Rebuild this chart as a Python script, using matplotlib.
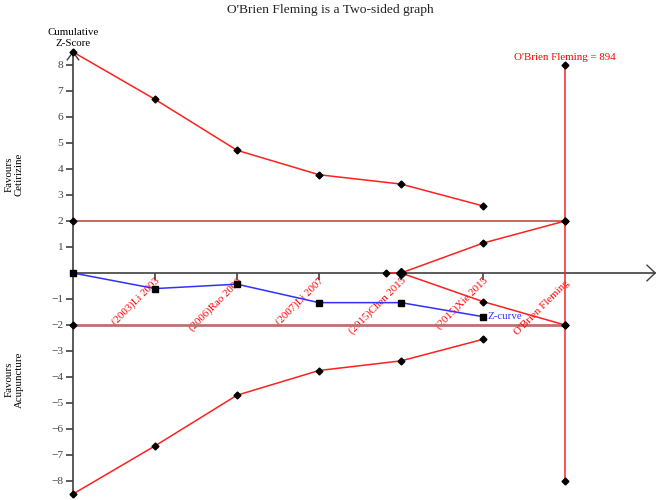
import matplotlib.pyplot as plt
import numpy as np

plt.rcParams['font.family'] = ['Liberation Serif', 'DejaVu Serif']

# studies along the x axis (equally spaced)
studies = ['(2003)Li 2003', '(2006)Rao 2006', '(2007)Li 2007',
           '(2015)Chen 2015', '(2015)Xie 2015', "O'Brien Fleming"]
xpos = np.arange(1, len(studies) + 1)

# cumulative z-curve
z_x = [0, 1, 2, 3, 4, 5]
z_val = [0, -0.6, -0.43, -1.14, -1.14, -1.68]

# O'Brien Fleming monitoring boundaries
b_x = [0, 1, 2, 3, 4, 5]
upper = [8.5, 6.68, 4.72, 3.78, 3.42, 2.58]
lower = [-8.5, -6.65, -4.70, -3.75, -3.38, -2.55]

# inner wedge (futility-type boundaries)
w_x = [3.82, 4, 5, 6]
w_up = [0, 0, 1.15, 2]
w_lo = [0, 0, -1.1, -2]

ris = 894
ris_x = 6

fs = 7.8

fig = plt.figure(figsize=(6.6, 5), dpi=100)
ax = fig.add_axes([0, 0, 1, 1])
ax.set_xlim(-73 / 82, (660 - 73) / 82)
ax.set_ylim(-227 / 26, 273 / 26)

axc = '#404040'
for s in ['top', 'right']:
    ax.spines[s].set_visible(False)
ax.spines['left'].set_position(('data', 0))
ax.spines['bottom'].set_position(('data', 0))
ax.spines['left'].set_bounds(-8.6, 8.5)
ax.spines['bottom'].set_bounds(0, 7.1)
for s in ['left', 'bottom']:
    ax.spines[s].set_color(axc)
    ax.spines[s].set_linewidth(1.2)

# arrow heads
ax.plot([-0.07, 0, 0.07], [8.2, 8.5, 8.2], color=axc, lw=1, clip_on=False)
ax.plot([7.0, 7.1, 7.0], [0.3, 0, -0.3], color=axc, lw=1, clip_on=False)

yt = [v for v in range(-8, 9) if v != 0]
ax.set_yticks(yt)
ax.set_yticklabels([str(v).replace('-', '\u2212') for v in yt])
ax.tick_params(axis='y', direction='out', length=5, width=1.2, color=axc,
               labelsize=8.2, labelcolor='#444444', pad=2)

ax.set_xticks(xpos[:-1])
ax.set_xticklabels(studies[:-1])
ax.tick_params(axis='x', direction='out', length=5, width=1.2, color=axc,
               labelsize=fs, labelcolor='red', pad=-3)
for lab in ax.get_xticklabels():
    lab.set_rotation(45)
    lab.set_ha('right')
    lab.set_va('top')
    lab.set_rotation_mode('anchor')

ax.text(xpos[-1], -0.2, studies[-1], rotation=45, ha='right', va='top',
        rotation_mode='anchor', color='red', fontsize=fs)

# +/- 2 lines
ax.plot([0, ris_x], [2, 2], color='#b83a3a', lw=1.1)
ax.plot([0, ris_x], [-2, -2], color='#c07070', lw=2)
ax.plot([0, 0], [2, -2], 'D', color='black', ms=3.5, ls='none', zorder=5)

# boundaries
ax.plot(b_x, upper, color='#ff2020', lw=1.1, marker='D', ms=3.5,
        mfc='black', mec='black', zorder=4)
ax.plot(b_x, lower, color='#ff2020', lw=1.1, marker='D', ms=3.5,
        mfc='black', mec='black', zorder=4)
ax.plot(w_x, w_up, color='#ff2020', lw=1.1, marker='D', ms=3.5,
        mfc='black', mec='black', zorder=4)
ax.plot(w_x[1:], w_lo[1:], color='#ff2020', lw=1.1, marker='D', ms=3.5,
        mfc='black', mec='black', zorder=4)
ax.plot([4], [0], 'D', color='black', ms=5, zorder=6)

# required information size line
ax.plot([ris_x, ris_x], [8, -8], color='#ff2020', lw=1.1, zorder=3)
ax.plot([ris_x] * 4, [8, 2, -2, -8], 'D', color='black', ms=3.5, ls='none', zorder=5)
ax.text(ris_x, 8.3, "O'Brien Fleming = %d" % ris, color='red', fontsize=fs,
        ha='center', va='center')

# z-curve
ax.plot(z_x, z_val, color='#3030ff', lw=1.1, marker='s', ms=4.5,
        mfc='black', mec='black', zorder=6)
ax.text(z_x[-1] + 0.05, z_val[-1], 'Z-curve', color='#3030ff', fontsize=fs,
        ha='left', va='center')

ax.text(0, 9.05, 'Cumulative\nZ-Score', ha='center', va='center', fontsize=fs,
        linespacing=1.25)
ax.text(-0.72, 3.8, 'Favours\nCetirizine', rotation=90, ha='center', va='center',
        fontsize=fs, linespacing=1.15)
ax.text(-0.72, -4.1, 'Favours\nAcupuncture', rotation=90, ha='center', va='center',
        fontsize=fs, linespacing=1.15)

fig.text(0.5, 0.992, "O'Brien Fleming is a Two-sided graph", ha='center', va='top',
         fontsize=9.7, color='#222222')

fig.savefig('out.png', dpi=100)
